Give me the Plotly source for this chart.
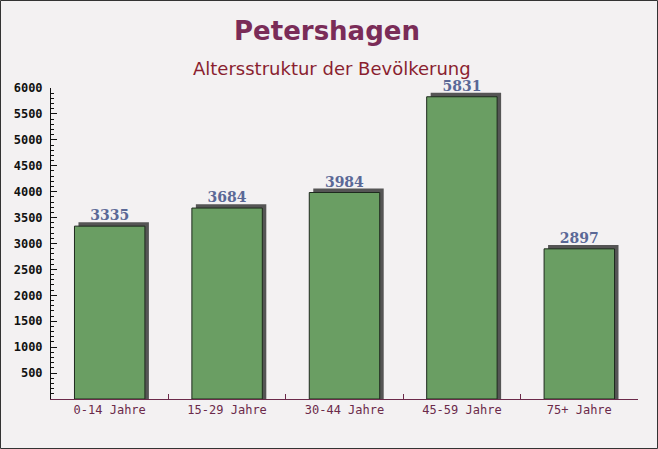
import plotly.graph_objects as go

categories = ["0-14 Jahre", "15-29 Jahre", "30-44 Jahre", "45-59 Jahre", "75+ Jahre"]
values = [3335, 3684, 3984, 5831, 2897]
y_ticks = [500, 1000, 1500, 2000, 2500, 3000, 3500, 4000, 4500, 5000, 5500, 6000]

W, H = 658, 449
ML, MR, MT, MB = 51, 20, 88, 50
pw, ph = W - ML - MR, H - MT - MB

fig = go.Figure()

# shadow bars (offset right/up) for a 3D look
fig.add_trace(go.Bar(
    x=categories, y=[v + 75 for v in values],
    width=0.6, offset=-0.3 + 0.034,
    marker=dict(color="#555555", line=dict(width=0)),
    hoverinfo="skip", showlegend=False,
))
fig.add_trace(go.Bar(
    x=categories, y=values,
    width=0.6, offset=-0.3,
    marker=dict(color="#6a9e63", line=dict(color="#1e2a1e", width=1)),
    text=[str(v) for v in values], textposition="outside",
    textfont=dict(family="DejaVu Serif", size=14, color="#5a6896", weight="bold"),
    cliponaxis=False, showlegend=False,
))

fig.update_layout(
    width=W, height=H,
    margin=dict(l=ML, r=MR, t=MT, b=MB),
    paper_bgcolor="#f3f1f2", plot_bgcolor="rgba(0,0,0,0)",
    barmode="overlay",
    title=dict(text="<b>Petershagen</b>", x=(W / 2 - 2) / W, xanchor="center", y=1 - 31 / H, yanchor="middle",
               font=dict(family="DejaVu Sans", size=26, color="#7a2c58")),
    annotations=[dict(text="Altersstruktur der Bevölkerung", xref="paper", yref="paper",
                      x=(W / 2 + 3 - ML) / pw, y=1 + (MT - 68) / ph, xanchor="center", yanchor="middle",
                      showarrow=False, font=dict(family="DejaVu Sans", size=18, color="#8a1f30"))],
    shapes=[dict(type="rect", xref="paper", yref="paper",
                 x0=-ML / pw + 0.5 / pw, x1=1 + MR / pw - 0.5 / pw,
                 y0=-MB / ph + 0.5 / ph, y1=1 + MT / ph - 0.5 / ph,
                 line=dict(color="#333333", width=1), layer="above")],
    font=dict(family="DejaVu Sans Mono"),
)

fig.update_xaxes(
    showline=True, linecolor="#6b2a4a", linewidth=1,
    ticks="inside", tickson="boundaries", ticklen=5, tickcolor="#6b2a4a",
    tickfont=dict(family="DejaVu Sans Mono", size=12, color="#6b2a4a"),
    showgrid=False, range=[-0.5, 4.5],
)
fig.update_yaxes(
    range=[0, 6000], showline=True, linecolor="#111111", linewidth=1,
    tickvals=y_ticks, ticks="inside", ticklen=6, tickcolor="#111111",
    minor=dict(dtick=100, ticks="inside", ticklen=3, tickcolor="#111111"),
    tickfont=dict(family="DejaVu Sans Mono", size=12, color="#111111", weight="bold"),
    ticklabelstandoff=5,
    showgrid=False, zeroline=False,
)

fig.write_html("out.html", config={"displayModeBar": False},
               post_script="document.body.style.margin='0';document.body.style.overflow='hidden';")
